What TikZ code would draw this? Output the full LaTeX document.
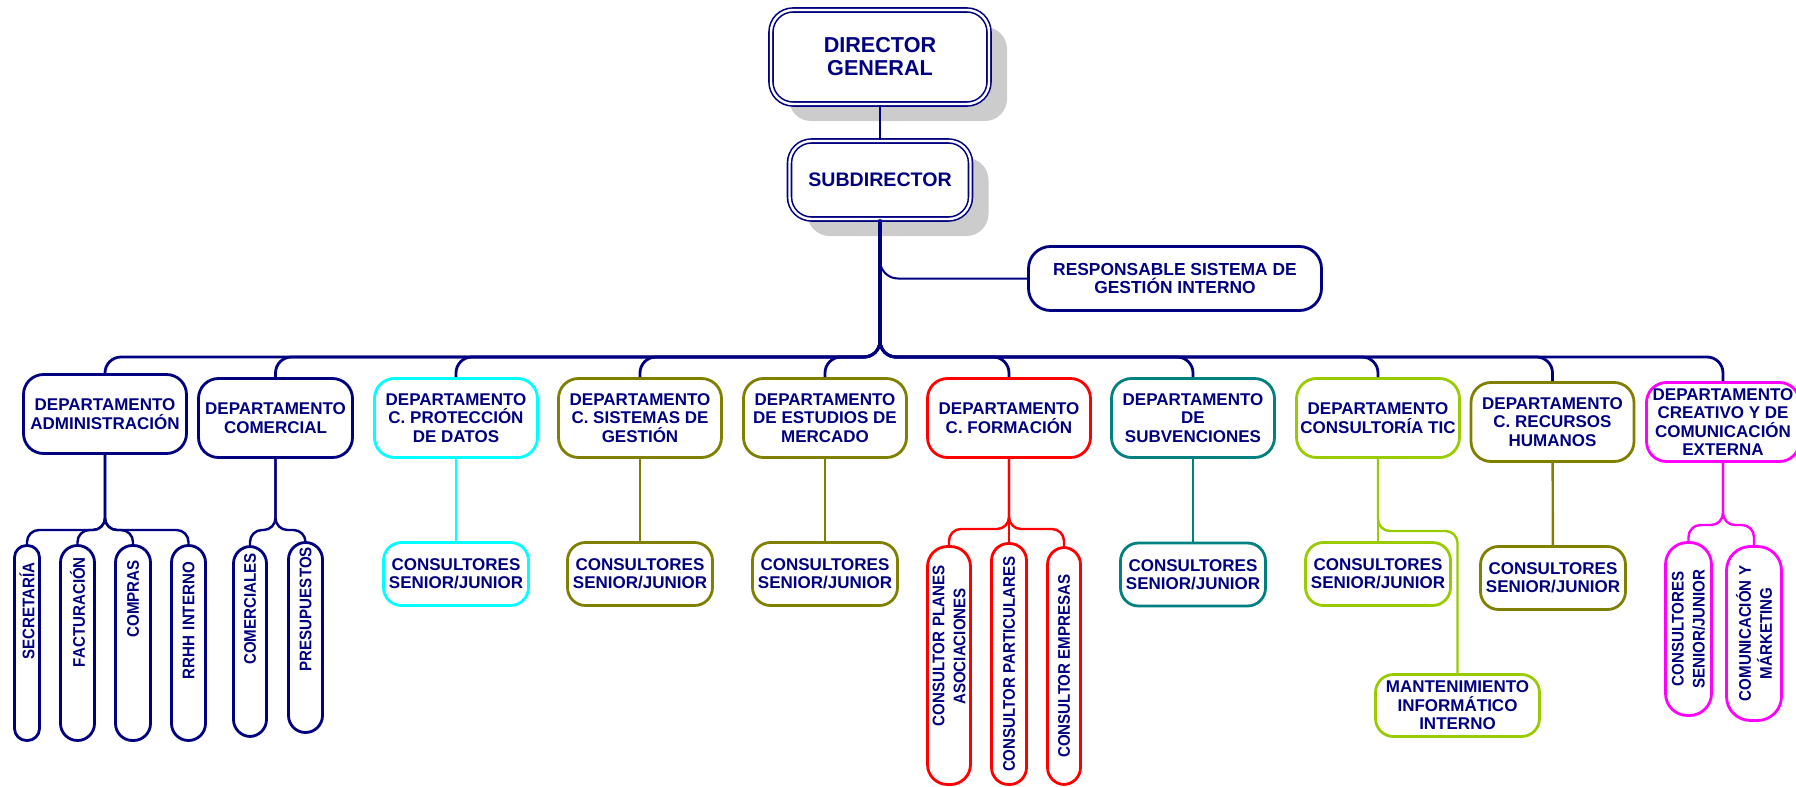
\documentclass[tikz,border=0pt]{standalone}
\usepackage{fontspec}
\setmainfont{Liberation Sans}
\newfontfamily\narrowsans{Liberation Sans}[FakeStretch=0.9]
\usetikzlibrary{shadows}
\definecolor{navyc}{RGB}{0,0,128}
\definecolor{olivec}{RGB}{128,128,0}
\definecolor{tealc}{RGB}{0,128,128}
\definecolor{limec}{RGB}{153,204,0}
\definecolor{cyanc}{RGB}{0,255,255}
\definecolor{magentac}{RGB}{255,0,255}
\definecolor{redc}{RGB}{255,0,0}
\definecolor{shadowc}{RGB}{204,204,204}
\begin{document}
\begin{tikzpicture}[x=0.5pt,y=-0.5pt,
		box/.style={draw=navyc, line width=1.4pt, fill=white, text=navyc, align=center, font=\bfseries\fontsize{8.5}{9.2}\selectfont, inner xsep=1pt, inner ysep=1pt},
		dept/.style={box, rounded corners=10pt, minimum width=81.5pt, minimum height=39.5pt},
		team/.style={box, rounded corners=9pt, minimum width=72.5pt, minimum height=31.5pt},
		vbox/.style={box, rotate=90, rounded corners=8.5pt, inner xsep=2pt, font=\narrowsans\bfseries\fontsize{8.4}{10.5}\selectfont},
		vtop/.style={vbox, align=right},
		head/.style={box, line width=0.8pt, double=white, double distance=1.2pt, rounded corners=11pt, general shadow={fill=shadowc, shadow xshift=9pt, shadow yshift=-8.5pt}},
		trunk/.style={draw=navyc, line width=1.4pt, rounded corners=8pt},
		fork/.style={draw=#1, line width=1.2pt, rounded corners=6pt}]
		\useasboundingbox (0,0) rectangle (1796,787);
		\clip (0,0) rectangle (1796,787);
		\node[head, minimum width=109pt, minimum height=47pt, font=\bfseries\fontsize{10.8}{11.5}\selectfont] (dg) at (880,57) {DIRECTOR\\GENERAL};
		\node[head, minimum width=90.5pt, minimum height=39pt, font=\bfseries\fontsize{9.8}{11}\selectfont] (sub) at (880,180) {SUBDIRECTOR};
		\node[box, rounded corners=11pt, minimum width=146.5pt, minimum height=32pt, font=\bfseries\fontsize{8.7}{9.4}\selectfont] (rsg) at (1175,278.5) {RESPONSABLE SISTEMA DE\\GESTIÓN INTERNO};
		\node[dept] (adm) at (105,414) {DEPARTAMENTO\\ADMINISTRACIÓN};
		\node[dept, minimum width=77pt] (com) at (275.5,418) {DEPARTAMENTO\\COMERCIAL};
		\node[dept, draw=cyanc] (prot) at (456,418) {DEPARTAMENTO\\C. PROTECCIÓN\\DE DATOS};
		\node[dept, draw=olivec] (sist) at (640,418) {DEPARTAMENTO\\C. SISTEMAS DE\\GESTIÓN};
		\node[dept, draw=olivec] (estu) at (825,418) {DEPARTAMENTO\\DE ESTUDIOS DE\\MERCADO};
		\node[dept, draw=redc] (form) at (1009,418) {DEPARTAMENTO\\C. FORMACIÓN};
		\node[dept, draw=tealc] (subv) at (1193,418) {DEPARTAMENTO\\DE\\SUBVENCIONES};
		\node[dept, draw=limec] (tic) at (1378,418) {DEPARTAMENTO\\CONSULTORÍA TIC};
		\node[dept, draw=olivec] (rrhh) at (1552.5,422) {DEPARTAMENTO\\C. RECURSOS\\HUMANOS};
		\node[dept, draw=magentac, minimum width=76.5pt] (crea) at (1723,422) {DEPARTAMENTO\\CREATIVO Y DE\\COMUNICACIÓN\\EXTERNA};
		\node[vtop, minimum width=97.5pt, minimum height=12.5pt, rounded corners=6pt, inner xsep=8.3pt, text width=80.9pt] (secr) at (27,643) {SECRETARÍA};
		\node[vtop, minimum width=97.5pt, minimum height=17pt, inner xsep=5.8pt, text width=85.9pt] (fact) at (77.5,643) {FACTURACIÓN};
		\node[vtop, minimum width=97.5pt, minimum height=17.5pt, inner xsep=7.3pt, text width=82.9pt] (comp) at (133,643) {COMPRAS};
		\node[vtop, minimum width=97.5pt, minimum height=17pt, inner xsep=8.3pt, text width=80.9pt] (rrint) at (188.5,643) {RRHH INTERNO};
		\node[vtop, minimum width=95pt, minimum height=16.5pt, inner xsep=3.3pt, text width=88.4pt] (comer) at (250,641.5) {COMERCIALES};
		\node[vtop, minimum width=95pt, minimum height=17pt, inner xsep=2.3pt, text width=90.4pt] (pres) at (305.5,637.5) {PRESUPUESTOS};
		\node[team, draw=cyanc] (protc) at (456,574) {CONSULTORES\\SENIOR/JUNIOR};
		\node[team, draw=olivec] (sistc) at (640,574) {CONSULTORES\\SENIOR/JUNIOR};
		\node[team, draw=olivec] (estuc) at (825,574) {CONSULTORES\\SENIOR/JUNIOR};
		\node[vtop, draw=redc, minimum width=119pt, minimum height=21.5pt, rounded corners=10pt, inner xsep=9.3pt, text width=100.4pt] (plan) at (949,665.5) {CONSULTOR PLANES\\ASOCIACIONES\hspace*{11.5pt}};
		\node[vbox, draw=redc, minimum width=120.5pt, minimum height=17.5pt] (part) at (1009,664) {CONSULTOR PARTICULARES};
		\node[vbox, draw=redc, minimum width=118.5pt, minimum height=16.5pt] (empr) at (1064,666) {CONSULTOR EMPRESAS};
		\node[team, draw=tealc] (subvc) at (1193,574.5) {CONSULTORES\\SENIOR/JUNIOR};
		\node[team, draw=limec] (ticc) at (1378,574) {CONSULTORES\\SENIOR/JUNIOR};
		\node[team, draw=limec, minimum width=82pt, minimum height=31pt] (mant) at (1457.5,705.5) {MANTENIMIENTO\\INFORMÁTICO\\INTERNO};
		\node[team, draw=olivec] (rrhhc) at (1553,578) {CONSULTORES\\SENIOR/JUNIOR};
		\node[vbox, draw=magentac, minimum width=86.5pt, minimum height=23pt, rounded corners=11pt] (crsj) at (1688.5,629) {CONSULTORES\\SENIOR/JUNIOR};
		\node[vbox, draw=magentac, minimum width=87pt, minimum height=27.5pt, rounded corners=12pt] (cmkt) at (1754,633.5) {COMUNICACIÓN Y\\MÁRKETING};
		\draw[navyc, line width=1pt] (dg) -- (sub);
		\draw[navyc, line width=1pt, rounded corners=9pt] (sub.south) |- (rsg.west);
		\coordinate (bus) at (880,357);
		\foreach \d in {adm,com,prot,sist,estu,form,subv,tic,rrhh,crea}
			\draw[trunk] (sub.south) -- (bus) -| (\d.north);
		\coordinate (admfork) at (105,530);
		\foreach \c in {secr,fact,comp,rrint}
			\draw[fork=navyc] (adm.south) -- (admfork) -| (\c.east);
		\coordinate (comfork) at (275.5,530);
		\foreach \c in {comer,pres}
			\draw[fork=navyc] (com.south) -- (comfork) -| (\c.east);
		\draw[fork=cyanc] (prot) -- (protc);
		\draw[fork=olivec] (sist) -- (sistc);
		\draw[fork=olivec] (estu) -- (estuc);
		\coordinate (formfork) at (1009,529);
		\foreach \c in {plan,empr}
			\draw[fork=redc] (form.south) -- (formfork) -| (\c.east);
		\draw[fork=redc] (form) -- (part);
		\draw[fork=tealc] (subv) -- (subvc);
		\coordinate (ticfork) at (1378,531);
		\draw[fork=limec] (tic) -- (ticc);
		\draw[fork=limec] (tic.south) -- (ticfork) -| (mant.north);
		\draw[fork=olivec] (rrhh) -- (rrhhc);
		\coordinate (creafork) at (1723,525);
		\foreach \c in {crsj,cmkt}
			\draw[fork=magentac] (crea.south) -- (creafork) -| (\c.east);
	\end{tikzpicture}
\end{document}
